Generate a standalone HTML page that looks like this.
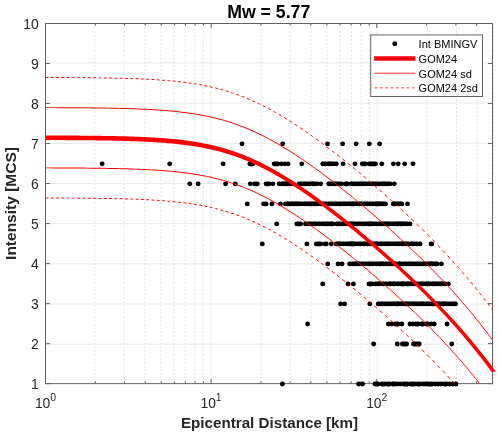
<!DOCTYPE html><html><head><meta charset="utf-8"><style>html,body{margin:0;padding:0;background:#fff}svg{display:block;will-change:transform}</style></head><body><svg width="500" height="437" viewBox="0 0 500 437" font-family="'Liberation Sans', sans-serif">
<rect width="500" height="437" fill="#fff"/>
<line x1="94.70" x2="94.70" y1="23.5" y2="383.65" stroke="#dadada" stroke-width="0.8" stroke-dasharray="2 1.8"/>
<line x1="123.97" x2="123.97" y1="23.5" y2="383.65" stroke="#dadada" stroke-width="0.8" stroke-dasharray="2 1.8"/>
<line x1="144.74" x2="144.74" y1="23.5" y2="383.65" stroke="#dadada" stroke-width="0.8" stroke-dasharray="2 1.8"/>
<line x1="160.85" x2="160.85" y1="23.5" y2="383.65" stroke="#dadada" stroke-width="0.8" stroke-dasharray="2 1.8"/>
<line x1="174.02" x2="174.02" y1="23.5" y2="383.65" stroke="#dadada" stroke-width="0.8" stroke-dasharray="2 1.8"/>
<line x1="185.15" x2="185.15" y1="23.5" y2="383.65" stroke="#dadada" stroke-width="0.8" stroke-dasharray="2 1.8"/>
<line x1="194.79" x2="194.79" y1="23.5" y2="383.65" stroke="#dadada" stroke-width="0.8" stroke-dasharray="2 1.8"/>
<line x1="203.29" x2="203.29" y1="23.5" y2="383.65" stroke="#dadada" stroke-width="0.8" stroke-dasharray="2 1.8"/>
<line x1="260.94" x2="260.94" y1="23.5" y2="383.65" stroke="#dadada" stroke-width="0.8" stroke-dasharray="2 1.8"/>
<line x1="290.22" x2="290.22" y1="23.5" y2="383.65" stroke="#dadada" stroke-width="0.8" stroke-dasharray="2 1.8"/>
<line x1="310.99" x2="310.99" y1="23.5" y2="383.65" stroke="#dadada" stroke-width="0.8" stroke-dasharray="2 1.8"/>
<line x1="327.10" x2="327.10" y1="23.5" y2="383.65" stroke="#dadada" stroke-width="0.8" stroke-dasharray="2 1.8"/>
<line x1="340.26" x2="340.26" y1="23.5" y2="383.65" stroke="#dadada" stroke-width="0.8" stroke-dasharray="2 1.8"/>
<line x1="351.39" x2="351.39" y1="23.5" y2="383.65" stroke="#dadada" stroke-width="0.8" stroke-dasharray="2 1.8"/>
<line x1="361.04" x2="361.04" y1="23.5" y2="383.65" stroke="#dadada" stroke-width="0.8" stroke-dasharray="2 1.8"/>
<line x1="369.54" x2="369.54" y1="23.5" y2="383.65" stroke="#dadada" stroke-width="0.8" stroke-dasharray="2 1.8"/>
<line x1="427.19" x2="427.19" y1="23.5" y2="383.65" stroke="#dadada" stroke-width="0.8" stroke-dasharray="2 1.8"/>
<line x1="456.47" x2="456.47" y1="23.5" y2="383.65" stroke="#dadada" stroke-width="0.8" stroke-dasharray="2 1.8"/>
<line x1="477.24" x2="477.24" y1="23.5" y2="383.65" stroke="#dadada" stroke-width="0.8" stroke-dasharray="2 1.8"/>
<line x1="493.35" x2="493.35" y1="23.5" y2="383.65" stroke="#dadada" stroke-width="0.8" stroke-dasharray="2 1.8"/>
<line x1="210.90" x2="210.90" y1="23.5" y2="383.65" stroke="#e8e8e8" stroke-width="1"/>
<line x1="377.15" x2="377.15" y1="23.5" y2="383.65" stroke="#e8e8e8" stroke-width="1"/>
<line x1="45.5" x2="492.5" y1="344.22" y2="344.22" stroke="#e8e8e8" stroke-width="1"/>
<line x1="45.5" x2="492.5" y1="304.04" y2="304.04" stroke="#e8e8e8" stroke-width="1"/>
<line x1="45.5" x2="492.5" y1="263.85" y2="263.85" stroke="#e8e8e8" stroke-width="1"/>
<line x1="45.5" x2="492.5" y1="223.67" y2="223.67" stroke="#e8e8e8" stroke-width="1"/>
<line x1="45.5" x2="492.5" y1="183.48" y2="183.48" stroke="#e8e8e8" stroke-width="1"/>
<line x1="45.5" x2="492.5" y1="143.30" y2="143.30" stroke="#e8e8e8" stroke-width="1"/>
<line x1="45.5" x2="492.5" y1="103.11" y2="103.11" stroke="#e8e8e8" stroke-width="1"/>
<line x1="45.5" x2="492.5" y1="62.93" y2="62.93" stroke="#e8e8e8" stroke-width="1"/>
<clipPath id="c"><rect x="45.5" y="23.5" width="447.0" height="360.15"/></clipPath>
<rect x="45.5" y="23.5" width="447.0" height="360.15" fill="none" stroke="#636363" stroke-width="1"/>
<path d="M45.5 383.65h4.5M492.5 383.65h-4.5M45.5 343.63h4.5M492.5 343.63h-4.5M45.5 303.62h4.5M492.5 303.62h-4.5M45.5 263.60h4.5M492.5 263.60h-4.5M45.5 223.58h4.5M492.5 223.58h-4.5M45.5 183.57h4.5M492.5 183.57h-4.5M45.5 143.55h4.5M492.5 143.55h-4.5M45.5 103.53h4.5M492.5 103.53h-4.5M45.5 63.52h4.5M492.5 63.52h-4.5M45.5 23.50h4.5M492.5 23.50h-4.5M45.50 383.65v-4.5M45.50 23.5v4.5M211.12 383.65v-4.5M211.12 23.5v4.5M376.74 383.65v-4.5M376.74 23.5v4.5M95.36 383.65v-2.2M95.36 23.5v2.2M124.52 383.65v-2.2M124.52 23.5v2.2M145.21 383.65v-2.2M145.21 23.5v2.2M161.26 383.65v-2.2M161.26 23.5v2.2M174.38 383.65v-2.2M174.38 23.5v2.2M185.46 383.65v-2.2M185.46 23.5v2.2M195.07 383.65v-2.2M195.07 23.5v2.2M203.54 383.65v-2.2M203.54 23.5v2.2M260.97 383.65v-2.2M260.97 23.5v2.2M290.14 383.65v-2.2M290.14 23.5v2.2M310.83 383.65v-2.2M310.83 23.5v2.2M326.88 383.65v-2.2M326.88 23.5v2.2M340.00 383.65v-2.2M340.00 23.5v2.2M351.08 383.65v-2.2M351.08 23.5v2.2M360.69 383.65v-2.2M360.69 23.5v2.2M369.16 383.65v-2.2M369.16 23.5v2.2M426.59 383.65v-2.2M426.59 23.5v2.2M455.76 383.65v-2.2M455.76 23.5v2.2M476.45 383.65v-2.2M476.45 23.5v2.2M492.50 383.65v-2.2M492.50 23.5v2.2" stroke="#636363" stroke-width="1" fill="none"/>
<g stroke="#000" stroke-width="4.9" stroke-linecap="round" fill="none">
<path d="M242.00 143.85h0.01"/>
<path d="M282.70 143.85h0.01"/>
<path d="M327.50 143.85h0.01"/>
<path d="M342.60 143.85h0.01"/>
<path d="M356.20 143.85h0.01"/>
<path d="M369.30 143.85h0.01"/>
<path d="M379.60 143.85h0.01"/>
<path d="M102.15 163.86h0.01"/>
<path d="M169.70 163.86h0.01"/>
<path d="M223.10 163.86h0.01"/>
<path d="M249.80 163.86H252.80"/>
<path d="M274.20 163.86H278.00"/>
<path d="M281.20 163.86h0.01"/>
<path d="M284.70 163.86h0.01"/>
<path d="M288.00 163.86h0.01"/>
<path d="M301.80 163.86h0.01"/>
<path d="M322.80 163.86H336.30" stroke-width="4.1"/>
<path d="M322.80 163.86h0.01M325.39 163.86h0.01M328.27 163.86h0.01M330.39 163.86h0.01M332.91 163.86h0.01M336.30 163.86h0.01"/>
<path d="M343.00 163.86h0.01"/>
<path d="M355.00 163.86h0.01"/>
<path d="M362.30 163.86H365.50"/>
<path d="M369.00 163.86H375.50"/>
<path d="M381.80 163.86h0.01"/>
<path d="M393.40 163.86h0.01"/>
<path d="M398.20 163.86h0.01"/>
<path d="M404.70 163.86h0.01"/>
<path d="M413.00 163.86h0.01"/>
<path d="M189.80 183.87h0.01"/>
<path d="M198.10 183.87h0.01"/>
<path d="M225.60 183.87h0.01"/>
<path d="M235.20 183.87h0.01"/>
<path d="M250.30 183.87h0.01"/>
<path d="M254.50 183.87H257.30"/>
<path d="M266.10 183.87H269.10"/>
<path d="M272.90 183.87h0.01"/>
<path d="M279.20 183.87H291.80" stroke-width="4.1"/>
<path d="M279.20 183.87h0.01M282.41 183.87h0.01M284.24 183.87h0.01M286.21 183.87h0.01M287.91 183.87h0.01M290.30 183.87h0.01M291.80 183.87h0.01"/>
<path d="M299.30 183.87H316.90" stroke-width="4.1"/>
<path d="M299.30 183.87h0.01M301.72 183.87h0.01M304.49 183.87h0.01M306.59 183.87h0.01M309.41 183.87h0.01M312.07 183.87h0.01M313.72 183.87h0.01M316.90 183.87h0.01"/>
<path d="M320.70 183.87h0.01"/>
<path d="M328.80 183.87H341.00" stroke-width="4.1"/>
<path d="M328.80 183.87h0.01M330.87 183.87h0.01M333.21 183.87h0.01M335.32 183.87h0.01M338.17 183.87h0.01M341.00 183.87h0.01"/>
<path d="M345.00 183.87H347.50"/>
<path d="M351.00 183.87H390.00" stroke-width="4.1"/>
<path d="M351.00 183.87h0.01M352.88 183.87h0.01M355.46 183.87h0.01M358.47 183.87h0.01M360.62 183.87h0.01M362.62 183.87h0.01M364.92 183.87h0.01M368.20 183.87h0.01M371.56 183.87h0.01M374.37 183.87h0.01M377.59 183.87h0.01M380.72 183.87h0.01M383.00 183.87h0.01M384.76 183.87h0.01M387.54 183.87h0.01M390.00 183.87h0.01"/>
<path d="M394.20 183.87h0.01"/>
<path d="M247.30 203.88h0.01"/>
<path d="M263.60 203.88H266.10"/>
<path d="M271.90 203.88h0.01"/>
<path d="M280.50 203.88h0.01"/>
<path d="M285.50 203.88H385.40" stroke-width="4.1"/>
<path d="M285.50 203.88h0.01M287.75 203.88h0.01M289.76 203.88h0.01M292.09 203.88h0.01M294.53 203.88h0.01M296.62 203.88h0.01M298.74 203.88h0.01M301.17 203.88h0.01M304.31 203.88h0.01M306.97 203.88h0.01M309.08 203.88h0.01M311.18 203.88h0.01M313.60 203.88h0.01M315.57 203.88h0.01M317.53 203.88h0.01M320.06 203.88h0.01M321.81 203.88h0.01M324.28 203.88h0.01M326.54 203.88h0.01M329.41 203.88h0.01M332.35 203.88h0.01M335.20 203.88h0.01M338.04 203.88h0.01M340.31 203.88h0.01M343.11 203.88h0.01M345.32 203.88h0.01M347.96 203.88h0.01M350.14 203.88h0.01M352.54 203.88h0.01M354.25 203.88h0.01M356.29 203.88h0.01M359.64 203.88h0.01M361.66 203.88h0.01M364.50 203.88h0.01M367.27 203.88h0.01M370.17 203.88h0.01M372.63 203.88h0.01M375.30 203.88h0.01M377.02 203.88h0.01M378.75 203.88h0.01M380.71 203.88h0.01M382.59 203.88h0.01M385.40 203.88h0.01"/>
<path d="M393.40 203.88H401.70" stroke-width="4.1"/>
<path d="M393.40 203.88h0.01M395.23 203.88h0.01M397.83 203.88h0.01M399.77 203.88h0.01M401.70 203.88h0.01"/>
<path d="M407.50 203.88h0.01"/>
<path d="M276.70 223.88h0.01"/>
<path d="M296.80 223.88H300.60"/>
<path d="M305.60 223.88H332.50" stroke-width="4.1"/>
<path d="M305.60 223.88h0.01M308.43 223.88h0.01M311.00 223.88h0.01M313.87 223.88h0.01M315.95 223.88h0.01M319.22 223.88h0.01M322.33 223.88h0.01M325.23 223.88h0.01M327.70 223.88h0.01M330.81 223.88h0.01M332.50 223.88h0.01"/>
<path d="M336.50 223.88H410.00" stroke-width="4.1"/>
<path d="M336.50 223.88h0.01M339.29 223.88h0.01M342.53 223.88h0.01M345.27 223.88h0.01M347.53 223.88h0.01M350.13 223.88h0.01M352.08 223.88h0.01M354.03 223.88h0.01M356.93 223.88h0.01M359.95 223.88h0.01M363.30 223.88h0.01M366.43 223.88h0.01M369.01 223.88h0.01M370.77 223.88h0.01M373.25 223.88h0.01M376.52 223.88h0.01M379.54 223.88h0.01M382.01 223.88h0.01M384.43 223.88h0.01M386.42 223.88h0.01M388.34 223.88h0.01M390.07 223.88h0.01M393.28 223.88h0.01M396.03 223.88h0.01M397.89 223.88h0.01M400.23 223.88h0.01M401.92 223.88h0.01M403.90 223.88h0.01M406.82 223.88h0.01M410.00 223.88h0.01"/>
<path d="M262.30 243.89h0.01"/>
<path d="M306.90 243.89h0.01"/>
<path d="M316.40 243.89H320.70"/>
<path d="M325.00 243.89H326.30"/>
<path d="M331.30 243.89h0.01"/>
<path d="M336.30 243.89H420.10" stroke-width="4.1"/>
<path d="M336.30 243.89h0.01M338.76 243.89h0.01M340.86 243.89h0.01M343.63 243.89h0.01M346.95 243.89h0.01M349.34 243.89h0.01M351.06 243.89h0.01M352.77 243.89h0.01M354.52 243.89h0.01M357.84 243.89h0.01M360.42 243.89h0.01M363.52 243.89h0.01M365.43 243.89h0.01M367.50 243.89h0.01M370.34 243.89h0.01M373.56 243.89h0.01M375.77 243.89h0.01M377.49 243.89h0.01M380.64 243.89h0.01M382.76 243.89h0.01M385.70 243.89h0.01M387.58 243.89h0.01M390.43 243.89h0.01M393.55 243.89h0.01M396.46 243.89h0.01M398.70 243.89h0.01M401.61 243.89h0.01M403.46 243.89h0.01M405.63 243.89h0.01M407.98 243.89h0.01M411.16 243.89h0.01M413.04 243.89h0.01M416.22 243.89h0.01M420.10 243.89h0.01"/>
<path d="M431.00 243.89H431.80"/>
<path d="M327.70 263.90h0.01"/>
<path d="M338.10 263.90h0.01"/>
<path d="M342.10 263.90h0.01"/>
<path d="M349.60 263.90H436.90" stroke-width="4.1"/>
<path d="M349.60 263.90h0.01M352.95 263.90h0.01M355.21 263.90h0.01M357.18 263.90h0.01M359.21 263.90h0.01M362.30 263.90h0.01M365.64 263.90h0.01M368.50 263.90h0.01M370.97 263.90h0.01M373.08 263.90h0.01M376.18 263.90h0.01M379.35 263.90h0.01M381.12 263.90h0.01M383.11 263.90h0.01M386.21 263.90h0.01M389.33 263.90h0.01M391.50 263.90h0.01M393.60 263.90h0.01M395.98 263.90h0.01M398.55 263.90h0.01M400.32 263.90h0.01M403.43 263.90h0.01M405.99 263.90h0.01M408.98 263.90h0.01M411.00 263.90h0.01M414.34 263.90h0.01M417.29 263.90h0.01M419.51 263.90h0.01M422.81 263.90h0.01M425.67 263.90h0.01M428.79 263.90h0.01M430.47 263.90h0.01M432.17 263.90h0.01M435.11 263.90h0.01M436.90 263.90h0.01"/>
<path d="M441.40 263.90h0.01"/>
<path d="M322.70 283.91h0.01"/>
<path d="M348.10 283.91h0.01"/>
<path d="M353.40 283.91h0.01"/>
<path d="M369.00 283.91H372.30"/>
<path d="M375.80 283.91H444.80" stroke-width="4.1"/>
<path d="M375.80 283.91h0.01M378.33 283.91h0.01M380.21 283.91h0.01M383.57 283.91h0.01M386.08 283.91h0.01M389.17 283.91h0.01M390.90 283.91h0.01M393.36 283.91h0.01M395.08 283.91h0.01M398.27 283.91h0.01M400.67 283.91h0.01M402.39 283.91h0.01M404.13 283.91h0.01M406.70 283.91h0.01M408.44 283.91h0.01M410.37 283.91h0.01M412.75 283.91h0.01M415.25 283.91h0.01M417.90 283.91h0.01M420.62 283.91h0.01M422.89 283.91h0.01M425.60 283.91h0.01M427.48 283.91h0.01M429.58 283.91h0.01M432.62 283.91h0.01M434.49 283.91h0.01M436.50 283.91h0.01M438.53 283.91h0.01M441.00 283.91h0.01M442.60 283.91h0.01M444.80 283.91h0.01"/>
<path d="M448.40 283.91h0.01"/>
<path d="M340.60 303.92h0.01"/>
<path d="M344.60 303.92h0.01"/>
<path d="M369.80 303.92h0.01"/>
<path d="M378.30 303.92H455.40" stroke-width="4.1"/>
<path d="M378.30 303.92h0.01M380.73 303.92h0.01M382.62 303.92h0.01M385.45 303.92h0.01M388.48 303.92h0.01M391.12 303.92h0.01M393.97 303.92h0.01M396.27 303.92h0.01M397.96 303.92h0.01M400.35 303.92h0.01M402.62 303.92h0.01M405.29 303.92h0.01M407.13 303.92h0.01M409.14 303.92h0.01M412.21 303.92h0.01M414.29 303.92h0.01M416.62 303.92h0.01M419.91 303.92h0.01M422.00 303.92h0.01M423.87 303.92h0.01M426.73 303.92h0.01M429.35 303.92h0.01M432.05 303.92h0.01M433.73 303.92h0.01M436.08 303.92h0.01M437.69 303.92h0.01M439.73 303.92h0.01M442.60 303.92h0.01M444.31 303.92h0.01M446.44 303.92h0.01M449.82 303.92h0.01M453.17 303.92h0.01M455.40 303.92h0.01"/>
<path d="M307.60 323.93h0.01"/>
<path d="M388.40 323.93h0.01"/>
<path d="M391.70 323.93h0.01"/>
<path d="M395.50 323.93H398.00"/>
<path d="M401.80 323.93h0.01"/>
<path d="M410.00 323.93H434.20" stroke-width="4.1"/>
<path d="M410.00 323.93h0.01M412.92 323.93h0.01M415.66 323.93h0.01M418.10 323.93h0.01M421.24 323.93h0.01M423.15 323.93h0.01M426.25 323.93h0.01M427.92 323.93h0.01M431.08 323.93h0.01M434.20 323.93h0.01"/>
<path d="M447.00 323.93h0.01"/>
<path d="M373.60 343.93h0.01"/>
<path d="M397.30 343.93h0.01"/>
<path d="M402.40 343.93H406.60"/>
<path d="M413.50 343.93H419.20"/>
<path d="M451.70 343.93h0.01"/>
<path d="M282.40 383.95h0.01"/>
<path d="M358.60 383.95h0.01"/>
<path d="M362.60 383.95h0.01"/>
<path d="M375.00 383.95H378.00"/>
<path d="M382.00 383.95H455.90" stroke-width="4.1"/>
<path d="M382.00 383.95h0.01M384.40 383.95h0.01M387.21 383.95h0.01M389.64 383.95h0.01M392.64 383.95h0.01M394.45 383.95h0.01M396.96 383.95h0.01M400.13 383.95h0.01M403.40 383.95h0.01M405.40 383.95h0.01M407.45 383.95h0.01M410.68 383.95h0.01M412.90 383.95h0.01M414.60 383.95h0.01M417.49 383.95h0.01M419.84 383.95h0.01M422.76 383.95h0.01M425.22 383.95h0.01M427.72 383.95h0.01M430.07 383.95h0.01M432.19 383.95h0.01M435.41 383.95h0.01M438.22 383.95h0.01M441.24 383.95h0.01M444.45 383.95h0.01M446.50 383.95h0.01M449.76 383.95h0.01M452.91 383.95h0.01M455.90 383.95h0.01"/>
</g>
<g fill="#ff0000" stroke="none"><g clip-path="url(#c)">
<path d="M45.50 107.13L47.53 107.14L49.56 107.15L51.59 107.15L53.62 107.16L55.65 107.17L57.68 107.18L59.71 107.19L61.74 107.20L63.77 107.21L65.80 107.22L67.94 107.23L69.97 107.24L72.00 107.26L74.03 107.27L76.06 107.29L78.09 107.30L80.12 107.32L82.15 107.33L84.18 107.35L86.21 107.37L88.36 107.39L90.39 107.41L92.42 107.44L94.45 107.46L96.48 107.49L98.51 107.51L100.54 107.54L102.57 107.57L104.60 107.60L106.63 107.64L108.66 107.67L110.80 107.71L112.83 107.75L114.86 107.79L116.89 107.84L118.92 107.88L120.95 107.93L122.98 107.99L125.01 108.04L127.04 108.10L129.07 108.16L131.21 108.23L133.24 108.30L135.27 108.37L137.30 108.45L139.33 108.53L141.36 108.61L143.39 108.70L145.42 108.80L147.45 108.90L149.48 109.00L151.51 109.11L153.65 109.24L155.68 109.36L157.71 109.49L159.74 109.63L161.77 109.77L163.80 109.92L165.83 110.08L167.86 110.25L169.89 110.43L171.92 110.61L174.07 110.82L176.10 111.03L178.13 111.24L180.16 111.47L182.19 111.71L184.22 111.96L186.25 112.22L188.28 112.50L190.31 112.78L192.34 113.09L194.48 113.42L196.51 113.75L198.54 114.10L200.57 114.46L202.60 114.84L204.63 115.23L206.66 115.64L208.69 116.07L210.72 116.52L212.75 116.99L214.78 117.47L216.92 118.01L218.95 118.53L220.98 119.08L223.01 119.64L225.04 120.23L227.07 120.84L229.10 121.47L231.13 122.12L233.16 122.80L235.19 123.50L237.34 124.26L239.37 125.00L241.40 125.77L243.43 126.56L245.46 127.37L247.49 128.21L249.52 129.07L251.55 129.95L253.58 130.86L255.61 131.79L257.64 132.74L259.78 133.77L261.81 134.77L263.84 135.79L265.87 136.83L267.90 137.89L269.93 138.98L271.96 140.08L273.99 141.21L276.02 142.36L278.05 143.53L280.19 144.78L282.22 145.99L284.25 147.21L286.28 148.46L288.31 149.72L290.34 151.00L292.37 152.30L294.40 153.61L296.43 154.94L298.46 156.28L300.49 157.65L302.63 159.10L304.66 160.49L306.69 161.90L308.72 163.31L310.75 164.75L312.78 166.19L314.81 167.65L316.84 169.12L318.87 170.61L320.90 172.10L323.05 173.69L325.08 175.21L327.11 176.74L329.14 178.28L331.17 179.84L333.20 181.40L335.23 182.97L337.26 184.55L339.29 186.14L341.32 187.74L343.46 189.44L345.49 191.06L347.52 192.69L349.55 194.33L351.58 195.98L353.61 197.63L355.64 199.30L357.67 200.97L359.70 202.66L361.73 204.35L363.76 206.05L365.90 207.85L367.93 209.57L369.96 211.30L371.99 213.03L374.02 214.77L376.05 216.53L378.08 218.29L380.11 220.06L382.14 221.84L384.17 223.63L386.32 225.53L388.35 227.34L390.38 229.16L392.41 230.98L394.44 232.82L396.47 234.67L398.50 236.53L400.53 238.40L402.56 240.27L404.59 242.16L406.62 244.07L408.76 246.08L410.79 248.01L412.82 249.95L414.85 251.89L416.88 253.85L418.91 255.83L420.94 257.81L422.97 259.81L425.00 261.83L427.50 264.33L429.65 266.48L431.68 268.54L433.71 270.61L435.74 272.70L437.77 274.80L439.80 276.92L441.83 279.06L443.86 281.21L445.89 283.38L447.92 285.57L449.95 287.77L452.09 290.12L454.12 292.37L456.15 294.64L458.18 296.92L460.21 299.23L462.24 301.56L464.27 303.91L466.30 306.29L468.33 308.69L470.36 311.11L472.50 313.70L474.53 316.17L476.56 318.67L478.59 321.20L480.62 323.76L482.65 326.35L484.68 328.96L486.71 331.61L488.74 334.28L490.77 336.99L492.91 339.89L491.96 339.89L489.82 336.99L487.79 334.28L485.76 331.61L483.73 328.96L481.70 326.35L479.67 323.76L477.64 321.20L475.61 318.67L473.58 316.17L471.55 313.70L469.41 311.11L467.38 308.69L465.35 306.29L463.32 303.91L461.29 301.56L459.26 299.23L457.23 296.92L455.20 294.64L453.17 292.37L451.14 290.12L449.00 287.77L446.97 285.57L444.94 283.38L442.91 281.21L440.88 279.06L438.85 276.92L436.82 274.80L434.79 272.70L432.76 270.61L430.73 268.54L428.70 266.48L426.55 264.33L425.00 262.78L422.97 260.76L420.94 258.76L418.91 256.78L416.88 254.80L414.85 252.84L412.82 250.90L410.79 248.96L408.76 247.03L406.62 245.02L404.59 243.11L402.56 241.22L400.53 239.35L398.50 237.48L396.47 235.62L394.44 233.77L392.41 231.93L390.38 230.11L388.35 228.29L386.32 226.48L384.17 224.58L382.14 222.79L380.11 221.01L378.08 219.24L376.05 217.48L374.02 215.72L371.99 213.98L369.96 212.25L367.93 210.52L365.90 208.80L363.76 207.00L361.73 205.30L359.70 203.61L357.67 201.92L355.64 200.25L353.61 198.58L351.58 196.93L349.55 195.28L347.52 193.64L345.49 192.01L343.46 190.39L341.32 188.69L339.29 187.09L337.26 185.50L335.23 183.92L333.20 182.35L331.17 180.79L329.14 179.23L327.11 177.69L325.08 176.16L323.05 174.64L320.90 173.05L318.87 171.56L316.84 170.07L314.81 168.60L312.78 167.14L310.75 165.70L308.72 164.26L306.69 162.85L304.66 161.44L302.63 160.05L300.49 158.60L298.46 157.23L296.43 155.89L294.40 154.56L292.37 153.25L290.34 151.95L288.31 150.67L286.28 149.41L284.25 148.16L282.22 146.94L280.19 145.73L278.05 144.48L276.02 143.31L273.99 142.16L271.96 141.03L269.93 139.93L267.90 138.84L265.87 137.78L263.84 136.74L261.81 135.72L259.78 134.72L257.64 133.69L255.61 132.74L253.58 131.81L251.55 130.90L249.52 130.02L247.49 129.16L245.46 128.32L243.43 127.51L241.40 126.72L239.37 125.95L237.34 125.21L235.19 124.45L233.16 123.75L231.13 123.07L229.10 122.42L227.07 121.79L225.04 121.18L223.01 120.59L220.98 120.03L218.95 119.48L216.92 118.96L214.78 118.42L212.75 117.94L210.72 117.47L208.69 117.02L206.66 116.59L204.63 116.18L202.60 115.79L200.57 115.41L198.54 115.05L196.51 114.70L194.48 114.37L192.34 114.04L190.31 113.73L188.28 113.45L186.25 113.17L184.22 112.91L182.19 112.66L180.16 112.42L178.13 112.19L176.10 111.98L174.07 111.77L171.92 111.56L169.89 111.38L167.86 111.20L165.83 111.03L163.80 110.87L161.77 110.72L159.74 110.58L157.71 110.44L155.68 110.31L153.65 110.19L151.51 110.06L149.48 109.95L147.45 109.85L145.42 109.75L143.39 109.65L141.36 109.56L139.33 109.48L137.30 109.40L135.27 109.32L133.24 109.25L131.21 109.18L129.07 109.11L127.04 109.05L125.01 108.99L122.98 108.94L120.95 108.88L118.92 108.83L116.89 108.79L114.86 108.74L112.83 108.70L110.80 108.66L108.66 108.62L106.63 108.59L104.60 108.55L102.57 108.52L100.54 108.49L98.51 108.46L96.48 108.44L94.45 108.41L92.42 108.39L90.39 108.36L88.36 108.34L86.21 108.32L84.18 108.30L82.15 108.28L80.12 108.27L78.09 108.25L76.06 108.24L74.03 108.22L72.00 108.21L69.97 108.19L67.94 108.18L65.80 108.17L63.77 108.16L61.74 108.15L59.71 108.14L57.68 108.13L55.65 108.12L53.62 108.11L51.59 108.10L49.56 108.10L47.53 108.09L45.50 108.08Z"/>
<path d="M45.50 167.40L47.53 167.41L49.56 167.41L51.59 167.42L53.62 167.43L55.65 167.44L57.68 167.44L59.71 167.45L61.74 167.46L63.77 167.47L65.80 167.48L67.94 167.50L69.97 167.51L72.00 167.52L74.03 167.54L76.06 167.55L78.09 167.57L80.12 167.58L82.15 167.60L84.18 167.62L86.21 167.64L88.36 167.66L90.39 167.68L92.42 167.70L94.45 167.73L96.48 167.75L98.51 167.78L100.54 167.81L102.57 167.84L104.60 167.87L106.63 167.90L108.66 167.94L110.80 167.98L112.83 168.02L114.86 168.06L116.89 168.10L118.92 168.15L120.95 168.20L122.98 168.25L125.01 168.31L127.04 168.36L129.07 168.43L131.21 168.49L133.24 168.56L135.27 168.63L137.30 168.71L139.33 168.79L141.36 168.88L143.39 168.97L145.42 169.06L147.45 169.16L149.48 169.27L151.51 169.38L153.65 169.50L155.68 169.62L157.71 169.75L159.74 169.89L161.77 170.04L163.80 170.19L165.83 170.35L167.86 170.52L169.89 170.69L171.92 170.88L174.07 171.09L176.10 171.29L178.13 171.51L180.16 171.74L182.19 171.97L184.22 172.22L186.25 172.49L188.28 172.76L190.31 173.05L192.34 173.35L194.48 173.68L196.51 174.02L198.54 174.36L200.57 174.72L202.60 175.10L204.63 175.50L206.66 175.91L208.69 176.34L210.72 176.79L212.75 177.25L214.78 177.74L216.92 178.27L218.95 178.80L220.98 179.34L223.01 179.91L225.04 180.50L227.07 181.11L229.10 181.74L231.13 182.39L233.16 183.06L235.19 183.76L237.34 184.52L239.37 185.27L241.40 186.03L243.43 186.82L245.46 187.64L247.49 188.47L249.52 189.33L251.55 190.22L253.58 191.12L255.61 192.05L257.64 193.00L259.78 194.03L261.81 195.03L263.84 196.05L265.87 197.09L267.90 198.16L269.93 199.24L271.96 200.35L273.99 201.48L276.02 202.62L278.05 203.79L280.19 205.04L282.22 206.25L284.25 207.48L286.28 208.72L288.31 209.98L290.34 211.26L292.37 212.56L294.40 213.87L296.43 215.20L298.46 216.55L300.49 217.91L302.63 219.36L304.66 220.75L306.69 222.16L308.72 223.58L310.75 225.01L312.78 226.46L314.81 227.92L316.84 229.39L318.87 230.87L320.90 232.37L323.05 233.96L325.08 235.48L327.11 237.01L329.14 238.55L331.17 240.10L333.20 241.66L335.23 243.23L337.26 244.82L339.29 246.41L341.32 248.01L343.46 249.71L345.49 251.33L347.52 252.96L349.55 254.60L351.58 256.24L353.61 257.90L355.64 259.56L357.67 261.24L359.70 262.92L361.73 264.61L363.76 266.31L365.90 268.12L367.93 269.83L369.96 271.56L371.99 273.30L374.02 275.04L376.05 276.79L378.08 278.55L380.11 280.33L382.14 282.11L384.17 283.89L386.32 285.79L388.35 287.60L390.38 289.42L392.41 291.25L394.44 293.09L396.47 294.93L398.50 296.79L400.53 298.66L402.56 300.54L404.59 302.43L406.62 304.33L408.76 306.35L410.79 308.27L412.82 310.21L414.85 312.16L416.88 314.12L418.91 316.09L420.94 318.08L422.97 320.08L425.00 322.09L427.50 324.59L429.65 326.75L431.68 328.80L433.71 330.88L435.74 332.96L437.77 335.07L439.80 337.18L441.83 339.32L443.86 341.47L445.89 343.64L447.92 345.83L449.95 348.04L452.09 350.39L454.12 352.63L456.15 354.90L458.18 357.19L460.21 359.50L462.24 361.83L464.27 364.18L466.30 366.55L468.33 368.95L470.36 371.38L472.50 373.96L474.53 376.44L476.56 378.94L478.59 381.47L480.62 384.02L482.65 386.61L484.68 389.23L486.71 391.87L488.74 394.55L490.77 397.26L492.91 400.15L491.96 400.15L489.82 397.26L487.79 394.55L485.76 391.87L483.73 389.23L481.70 386.61L479.67 384.02L477.64 381.47L475.61 378.94L473.58 376.44L471.55 373.96L469.41 371.38L467.38 368.95L465.35 366.55L463.32 364.18L461.29 361.83L459.26 359.50L457.23 357.19L455.20 354.90L453.17 352.63L451.14 350.39L449.00 348.04L446.97 345.83L444.94 343.64L442.91 341.47L440.88 339.32L438.85 337.18L436.82 335.07L434.79 332.96L432.76 330.88L430.73 328.80L428.70 326.75L426.55 324.59L425.00 323.04L422.97 321.03L420.94 319.03L418.91 317.04L416.88 315.07L414.85 313.11L412.82 311.16L410.79 309.22L408.76 307.30L406.62 305.28L404.59 303.38L402.56 301.49L400.53 299.61L398.50 297.74L396.47 295.88L394.44 294.04L392.41 292.20L390.38 290.37L388.35 288.55L386.32 286.74L384.17 284.84L382.14 283.06L380.11 281.28L378.08 279.50L376.05 277.74L374.02 275.99L371.99 274.25L369.96 272.51L367.93 270.78L365.90 269.07L363.76 267.26L361.73 265.56L359.70 263.87L357.67 262.19L355.64 260.51L353.61 258.85L351.58 257.19L349.55 255.55L347.52 253.91L345.49 252.28L343.46 250.66L341.32 248.96L339.29 247.36L337.26 245.77L335.23 244.18L333.20 242.61L331.17 241.05L329.14 239.50L327.11 237.96L325.08 236.43L323.05 234.91L320.90 233.32L318.87 231.82L316.84 230.34L314.81 228.87L312.78 227.41L310.75 225.96L308.72 224.53L306.69 223.11L304.66 221.70L302.63 220.31L300.49 218.86L298.46 217.50L296.43 216.15L294.40 214.82L292.37 213.51L290.34 212.21L288.31 210.93L286.28 209.67L284.25 208.43L282.22 207.20L280.19 205.99L278.05 204.74L276.02 203.57L273.99 202.43L271.96 201.30L269.93 200.19L267.90 199.11L265.87 198.04L263.84 197.00L261.81 195.98L259.78 194.98L257.64 193.95L255.61 193.00L253.58 192.07L251.55 191.17L249.52 190.28L247.49 189.42L245.46 188.59L243.43 187.77L241.40 186.98L239.37 186.22L237.34 185.47L235.19 184.71L233.16 184.01L231.13 183.34L229.10 182.69L227.07 182.06L225.04 181.45L223.01 180.86L220.98 180.29L218.95 179.75L216.92 179.22L214.78 178.69L212.75 178.20L210.72 177.74L208.69 177.29L206.66 176.86L204.63 176.45L202.60 176.05L200.57 175.67L198.54 175.31L196.51 174.97L194.48 174.63L192.34 174.30L190.31 174.00L188.28 173.71L186.25 173.44L184.22 173.17L182.19 172.92L180.16 172.69L178.13 172.46L176.10 172.24L174.07 172.04L171.92 171.83L169.89 171.64L167.86 171.47L165.83 171.30L163.80 171.14L161.77 170.99L159.74 170.84L157.71 170.70L155.68 170.57L153.65 170.45L151.51 170.33L149.48 170.22L147.45 170.11L145.42 170.01L143.39 169.92L141.36 169.83L139.33 169.74L137.30 169.66L135.27 169.58L133.24 169.51L131.21 169.44L129.07 169.38L127.04 169.31L125.01 169.26L122.98 169.20L120.95 169.15L118.92 169.10L116.89 169.05L114.86 169.01L112.83 168.97L110.80 168.93L108.66 168.89L106.63 168.85L104.60 168.82L102.57 168.79L100.54 168.76L98.51 168.73L96.48 168.70L94.45 168.68L92.42 168.65L90.39 168.63L88.36 168.61L86.21 168.59L84.18 168.57L82.15 168.55L80.12 168.53L78.09 168.52L76.06 168.50L74.03 168.49L72.00 168.47L69.97 168.46L67.94 168.45L65.80 168.43L63.77 168.42L61.74 168.41L59.71 168.40L57.68 168.39L55.65 168.39L53.62 168.38L51.59 168.37L49.56 168.36L47.53 168.36L45.50 168.35Z"/>
<path d="M45.50 77.00L46.17 77.00L46.84 77.01L47.51 77.01L48.29 77.01L48.29 77.96L47.51 77.96L46.84 77.96L46.17 77.95L45.50 77.95ZM50.87 77.02L51.54 77.02L52.21 77.02L52.88 77.03L53.66 77.03L53.66 77.98L52.88 77.98L52.21 77.97L51.54 77.97L50.87 77.97ZM56.12 77.04L56.79 77.04L57.46 77.05L58.13 77.05L58.91 77.05L58.91 78.00L58.13 78.00L57.46 78.00L56.79 77.99L56.12 77.99ZM61.48 77.06L62.15 77.07L62.83 77.07L63.50 77.07L64.28 77.08L64.28 78.03L63.50 78.02L62.83 78.02L62.15 78.02L61.48 78.01ZM66.74 77.09L67.41 77.10L68.08 77.10L68.75 77.10L69.53 77.11L69.53 78.06L68.75 78.05L68.08 78.05L67.41 78.05L66.74 78.04ZM72.10 77.13L72.77 77.13L73.44 77.13L74.12 77.14L74.90 77.14L74.90 78.09L74.12 78.09L73.44 78.08L72.77 78.08L72.10 78.08ZM77.36 77.16L78.03 77.17L78.70 77.17L79.37 77.18L80.15 77.18L80.15 78.13L79.37 78.13L78.70 78.12L78.03 78.12L77.36 78.11ZM82.61 77.21L83.28 77.21L83.95 77.22L84.62 77.22L85.40 77.23L85.40 78.18L84.62 78.17L83.95 78.17L83.28 78.16L82.61 78.16ZM87.98 77.26L88.65 77.26L89.32 77.27L89.99 77.28L90.77 77.29L90.77 78.24L89.99 78.23L89.32 78.22L88.65 78.21L87.98 78.21ZM93.23 77.31L93.90 77.32L94.57 77.33L95.24 77.34L96.02 77.35L96.02 78.30L95.24 78.29L94.57 78.28L93.90 78.27L93.23 78.26ZM98.59 77.38L99.27 77.39L99.94 77.40L100.61 77.41L101.39 77.42L101.39 78.37L100.61 78.36L99.94 78.35L99.27 78.34L98.59 78.33ZM103.85 77.46L104.52 77.47L105.19 77.48L105.86 77.49L106.64 77.50L106.64 78.45L105.86 78.44L105.19 78.43L104.52 78.42L103.85 78.41ZM109.10 77.55L109.77 77.56L110.44 77.57L111.11 77.58L111.90 77.60L111.90 78.55L111.11 78.53L110.44 78.52L109.77 78.51L109.10 78.50ZM114.47 77.65L115.14 77.67L115.81 77.68L116.48 77.70L117.26 77.71L117.26 78.66L116.48 78.65L115.81 78.63L115.14 78.62L114.47 78.60ZM119.72 77.77L120.39 77.79L121.06 77.80L121.73 77.82L122.52 77.84L122.52 78.79L121.73 78.77L121.06 78.75L120.39 78.74L119.72 78.72ZM125.09 77.91L125.76 77.93L126.43 77.95L127.10 77.97L127.88 77.99L127.88 78.94L127.10 78.92L126.43 78.90L125.76 78.88L125.09 78.86ZM130.34 78.07L131.01 78.09L131.68 78.11L132.35 78.13L133.13 78.16L133.13 79.11L132.35 79.08L131.68 79.06L131.01 79.04L130.34 79.02ZM135.70 78.25L136.38 78.28L137.05 78.30L137.72 78.33L138.50 78.36L138.50 79.31L137.72 79.28L137.05 79.25L136.38 79.23L135.70 79.20ZM140.96 78.46L141.63 78.49L142.30 78.52L142.97 78.55L143.75 78.59L143.75 79.54L142.97 79.50L142.30 79.47L141.63 79.44L140.96 79.41ZM146.21 78.70L146.88 78.74L147.55 78.77L148.22 78.80L149.01 78.84L149.01 79.79L148.22 79.75L147.55 79.72L146.88 79.69L146.21 79.65ZM151.58 78.98L152.25 79.02L152.92 79.06L153.59 79.10L154.37 79.15L154.37 80.10L153.59 80.05L152.92 80.01L152.25 79.97L151.58 79.93ZM156.83 79.30L157.50 79.34L158.17 79.39L158.84 79.43L159.63 79.49L159.63 80.44L158.84 80.38L158.17 80.34L157.50 80.29L156.83 80.25ZM162.20 79.67L162.87 79.72L163.54 79.77L164.21 79.82L164.99 79.88L164.99 80.83L164.21 80.77L163.54 80.72L162.87 80.67L162.20 80.62ZM167.45 80.08L168.12 80.14L168.79 80.20L169.46 80.26L170.24 80.33L170.24 81.28L169.46 81.21L168.79 81.15L168.12 81.09L167.45 81.03ZM172.70 80.56L173.37 80.62L174.04 80.69L174.72 80.75L175.50 80.83L175.50 81.78L174.72 81.70L174.04 81.64L173.37 81.57L172.70 81.51ZM178.07 81.10L178.74 81.18L179.41 81.25L180.08 81.33L180.86 81.42L180.86 82.37L180.08 82.28L179.41 82.20L178.74 82.13L178.07 82.05ZM183.32 81.71L183.99 81.80L184.66 81.88L185.33 81.97L186.12 82.07L186.12 83.02L185.33 82.92L184.66 82.83L183.99 82.75L183.32 82.66ZM188.69 82.42L189.36 82.52L190.03 82.61L190.70 82.71L191.48 82.82L191.48 83.77L190.70 83.66L190.03 83.56L189.36 83.47L188.69 83.37ZM193.94 83.20L194.61 83.31L195.28 83.42L195.95 83.53L196.74 83.66L196.74 84.61L195.95 84.48L195.28 84.37L194.61 84.26L193.94 84.15ZM199.31 84.10L199.98 84.22L200.65 84.34L201.32 84.46L201.99 84.59L201.99 85.54L201.32 85.41L200.65 85.29L199.98 85.17L199.31 85.05ZM204.56 85.09L205.23 85.22L205.90 85.36L206.57 85.49L207.35 85.66L207.35 86.61L206.57 86.44L205.90 86.31L205.23 86.17L204.56 86.04ZM209.81 86.19L210.48 86.34L211.15 86.49L211.83 86.64L212.61 86.82L212.61 87.77L211.83 87.59L211.15 87.44L210.48 87.29L209.81 87.14ZM215.18 87.44L215.85 87.60L216.52 87.77L217.19 87.94L217.97 88.14L217.97 89.09L217.19 88.89L216.52 88.72L215.85 88.55L215.18 88.39ZM220.43 88.79L221.10 88.98L221.77 89.16L222.44 89.35L223.23 89.57L223.23 90.52L222.44 90.30L221.77 90.11L221.10 89.93L220.43 89.74ZM225.80 90.32L226.47 90.52L227.14 90.73L227.81 90.93L228.59 91.18L228.59 92.13L227.81 91.88L227.14 91.68L226.47 91.47L225.80 91.27ZM231.05 91.96L231.72 92.18L232.39 92.41L233.06 92.63L233.85 92.90L233.85 93.85L233.06 93.58L232.39 93.36L231.72 93.13L231.05 92.91ZM236.30 93.76L236.98 93.99L237.65 94.24L238.32 94.48L239.10 94.77L239.10 95.72L238.32 95.43L237.65 95.19L236.98 94.94L236.30 94.71ZM241.67 95.74L242.34 96.00L243.01 96.26L243.68 96.53L244.46 96.84L244.46 97.79L243.68 97.48L243.01 97.21L242.34 96.95L241.67 96.69ZM246.92 97.84L247.59 98.12L248.27 98.40L248.94 98.69L249.72 99.02L249.72 99.97L248.94 99.64L248.27 99.35L247.59 99.07L246.92 98.79ZM252.29 100.15L252.96 100.45L253.63 100.75L254.30 101.05L255.08 101.41L255.08 102.36L254.30 102.00L253.63 101.70L252.96 101.40L252.29 101.10ZM257.54 102.56L258.21 102.88L258.88 103.20L259.55 103.53L260.34 103.91L260.34 104.86L259.55 104.48L258.88 104.15L258.21 103.83L257.54 103.51ZM262.91 105.18L263.58 105.52L264.25 105.86L264.92 106.21L265.59 106.55L265.59 107.50L264.92 107.16L264.25 106.81L263.58 106.47L262.91 106.13ZM268.16 107.90L268.83 108.26L269.50 108.62L270.17 108.98L270.96 109.40L270.96 110.35L270.17 109.93L269.50 109.57L268.83 109.21L268.16 108.85ZM273.42 110.76L274.09 111.13L274.76 111.51L275.43 111.89L276.21 112.33L276.21 113.28L275.43 112.84L274.76 112.46L274.09 112.08L273.42 111.71ZM278.78 113.82L279.45 114.21L280.12 114.61L280.79 115.00L281.58 115.47L281.58 116.42L280.79 115.95L280.12 115.56L279.45 115.16L278.78 114.77ZM284.03 116.95L284.70 117.36L285.38 117.77L286.05 118.18L286.83 118.66L286.83 119.61L286.05 119.13L285.38 118.72L284.70 118.31L284.03 117.90ZM289.40 120.27L290.07 120.69L290.74 121.12L291.41 121.55L292.19 122.05L292.19 123.00L291.41 122.50L290.74 122.07L290.07 121.64L289.40 121.22ZM294.65 123.64L295.32 124.08L295.99 124.52L296.67 124.96L297.45 125.48L297.45 126.43L296.67 125.91L295.99 125.47L295.32 125.03L294.65 124.59ZM299.91 127.12L300.58 127.57L301.25 128.02L301.92 128.48L302.70 129.01L302.70 129.96L301.92 129.43L301.25 128.97L300.58 128.52L299.91 128.07ZM305.27 130.78L305.94 131.24L306.61 131.71L307.28 132.17L308.07 132.72L308.07 133.67L307.28 133.12L306.61 132.66L305.94 132.19L305.27 131.73ZM310.53 134.45L311.20 134.93L311.87 135.41L312.54 135.89L313.32 136.45L313.32 137.40L312.54 136.84L311.87 136.36L311.20 135.88L310.53 135.40ZM315.89 138.30L316.56 138.79L317.23 139.27L317.90 139.76L318.69 140.34L318.69 141.29L317.90 140.71L317.23 140.22L316.56 139.74L315.89 139.25ZM321.14 142.15L321.82 142.65L322.49 143.14L323.16 143.64L323.94 144.23L323.94 145.18L323.16 144.59L322.49 144.09L321.82 143.60L321.14 143.10ZM326.51 146.16L327.18 146.67L327.85 147.17L328.52 147.68L329.19 148.19L329.19 149.14L328.52 148.63L327.85 148.12L327.18 147.62L326.51 147.11ZM331.76 150.16L332.43 150.68L333.10 151.19L333.78 151.71L334.56 152.32L334.56 153.27L333.78 152.66L333.10 152.14L332.43 151.63L331.76 151.11ZM337.02 154.23L337.69 154.75L338.36 155.28L339.03 155.81L339.81 156.42L339.81 157.37L339.03 156.76L338.36 156.23L337.69 155.70L337.02 155.18ZM342.38 158.45L343.05 158.99L343.72 159.52L344.39 160.05L345.18 160.68L345.18 161.63L344.39 161.00L343.72 160.47L343.05 159.94L342.38 159.40ZM347.64 162.65L348.31 163.19L348.98 163.73L349.65 164.28L350.43 164.91L350.43 165.86L349.65 165.23L348.98 164.68L348.31 164.14L347.64 163.60ZM353.00 167.00L353.67 167.55L354.34 168.10L355.01 168.65L355.80 169.29L355.80 170.24L355.01 169.60L354.34 169.05L353.67 168.50L353.00 167.95ZM358.25 171.32L358.93 171.88L359.60 172.44L360.27 172.99L361.05 173.65L361.05 174.60L360.27 173.94L359.60 173.39L358.93 172.83L358.25 172.27ZM363.51 175.70L364.18 176.27L364.85 176.83L365.52 177.40L366.30 178.06L366.30 179.01L365.52 178.35L364.85 177.78L364.18 177.22L363.51 176.65ZM368.87 180.23L369.54 180.81L370.21 181.38L370.89 181.95L371.67 182.62L371.67 183.57L370.89 182.90L370.21 182.33L369.54 181.76L368.87 181.18ZM374.13 184.73L374.80 185.31L375.47 185.89L376.14 186.47L376.92 187.15L376.92 188.10L376.14 187.42L375.47 186.84L374.80 186.26L374.13 185.68ZM379.49 189.39L380.16 189.97L380.83 190.56L381.50 191.15L382.29 191.83L382.29 192.78L381.50 192.10L380.83 191.51L380.16 190.92L379.49 190.34ZM384.75 194.00L385.42 194.60L386.09 195.19L386.76 195.79L387.54 196.49L387.54 197.44L386.76 196.74L386.09 196.14L385.42 195.55L384.75 194.95ZM390.11 198.79L390.78 199.39L391.45 199.99L392.12 200.60L392.79 201.20L392.79 202.15L392.12 201.55L391.45 200.94L390.78 200.34L390.11 199.74ZM395.36 203.53L396.04 204.14L396.71 204.76L397.38 205.37L398.16 206.09L398.16 207.04L397.38 206.32L396.71 205.71L396.04 205.09L395.36 204.48ZM400.62 208.35L401.29 208.97L401.96 209.59L402.63 210.21L403.41 210.94L403.41 211.89L402.63 211.16L401.96 210.54L401.29 209.92L400.62 209.30ZM405.98 213.34L406.65 213.97L407.33 214.60L408.00 215.23L408.78 215.97L408.78 216.92L408.00 216.18L407.33 215.55L406.65 214.92L405.98 214.29ZM411.24 218.30L411.91 218.94L412.58 219.58L413.25 220.23L414.03 220.98L414.03 221.93L413.25 221.18L412.58 220.53L411.91 219.89L411.24 219.25ZM416.60 223.45L417.27 224.10L417.94 224.76L418.61 225.41L419.40 226.17L419.40 227.12L418.61 226.36L417.94 225.71L417.27 225.05L416.60 224.40ZM421.86 228.58L422.53 229.24L423.20 229.91L423.87 230.57L424.65 231.35L424.65 232.30L423.87 231.52L423.20 230.86L422.53 230.19L421.86 229.53ZM427.58 234.28L428.26 234.95L428.93 235.62L429.60 236.30L430.38 237.09L429.43 237.09L428.65 236.30L427.98 235.62L427.31 234.95L426.63 234.28ZM432.84 239.59L433.51 240.28L434.18 240.96L434.85 241.65L435.63 242.46L434.68 242.46L433.90 241.65L433.23 240.96L432.56 240.28L431.89 239.59ZM437.98 244.89L438.65 245.59L439.32 246.29L439.99 246.99L440.66 247.70L439.71 247.70L439.04 246.99L438.37 246.29L437.70 245.59L437.03 244.89ZM443.01 250.18L443.68 250.89L444.35 251.60L445.02 252.32L445.69 253.04L444.74 253.04L444.07 252.32L443.40 251.60L442.73 250.89L442.06 250.18ZM448.04 255.57L448.60 256.17L449.27 256.90L449.83 257.51L450.50 258.24L449.55 258.24L448.88 257.51L448.32 256.90L447.65 256.17L447.09 255.57ZM452.85 260.83L453.41 261.44L454.08 262.19L454.64 262.81L455.31 263.56L454.36 263.56L453.69 262.81L453.13 262.19L452.46 261.44L451.90 260.83ZM457.54 266.07L458.10 266.70L458.77 267.46L459.33 268.10L460.00 268.86L459.05 268.86L458.38 268.10L457.82 267.46L457.15 266.70L456.59 266.07ZM462.24 271.42L462.79 272.07L463.35 272.72L463.91 273.37L464.58 274.15L463.63 274.15L462.96 273.37L462.40 272.72L461.84 272.07L461.29 271.42ZM466.82 276.77L467.38 277.43L467.94 278.09L468.50 278.75L469.17 279.55L468.22 279.55L467.55 278.75L466.99 278.09L466.43 277.43L465.87 276.77ZM471.29 282.10L471.85 282.77L472.41 283.45L472.97 284.13L473.53 284.81L472.58 284.81L472.02 284.13L471.46 283.45L470.90 282.77L470.34 282.10ZM475.54 287.27L476.10 287.96L476.66 288.66L477.21 289.35L477.77 290.05L476.82 290.05L476.26 289.35L475.71 288.66L475.15 287.96L474.59 287.27ZM479.79 292.57L480.34 293.28L480.90 293.98L481.46 294.69L482.02 295.41L481.07 295.41L480.51 294.69L479.95 293.98L479.39 293.28L478.84 292.57ZM484.03 297.99L484.48 298.57L485.04 299.29L485.60 300.02L486.16 300.75L485.21 300.75L484.65 300.02L484.09 299.29L483.53 298.57L483.08 297.99ZM488.06 303.24L488.50 303.84L489.06 304.58L489.51 305.17L490.07 305.92L489.12 305.92L488.56 305.17L488.11 304.58L487.55 303.84L487.11 303.24ZM491.97 308.47L492.19 308.78L492.42 309.08L492.64 309.38L492.98 309.84L492.02 309.84L491.69 309.38L491.47 309.08L491.24 308.78L491.02 308.47Z"/>
<path d="M45.50 197.53L46.17 197.53L46.84 197.54L47.51 197.54L48.29 197.54L48.29 198.49L47.51 198.49L46.84 198.49L46.17 198.48L45.50 198.48ZM50.87 197.55L51.54 197.55L52.21 197.55L52.88 197.56L53.66 197.56L53.66 198.51L52.88 198.51L52.21 198.50L51.54 198.50L50.87 198.50ZM56.12 197.57L56.79 197.57L57.46 197.58L58.13 197.58L58.91 197.58L58.91 198.53L58.13 198.53L57.46 198.53L56.79 198.52L56.12 198.52ZM61.48 197.59L62.15 197.60L62.83 197.60L63.50 197.60L64.28 197.61L64.28 198.56L63.50 198.55L62.83 198.55L62.15 198.55L61.48 198.54ZM66.74 197.62L67.41 197.63L68.08 197.63L68.75 197.63L69.53 197.64L69.53 198.59L68.75 198.58L68.08 198.58L67.41 198.58L66.74 198.57ZM72.10 197.66L72.77 197.66L73.44 197.66L74.12 197.67L74.90 197.67L74.90 198.62L74.12 198.62L73.44 198.61L72.77 198.61L72.10 198.61ZM77.36 197.69L78.03 197.70L78.70 197.70L79.37 197.71L80.15 197.71L80.15 198.66L79.37 198.66L78.70 198.65L78.03 198.65L77.36 198.64ZM82.61 197.74L83.28 197.74L83.95 197.75L84.62 197.75L85.40 197.76L85.40 198.71L84.62 198.70L83.95 198.70L83.28 198.69L82.61 198.69ZM87.98 197.79L88.65 197.79L89.32 197.80L89.99 197.81L90.77 197.82L90.77 198.77L89.99 198.76L89.32 198.75L88.65 198.74L87.98 198.74ZM93.23 197.84L93.90 197.85L94.57 197.86L95.24 197.87L96.02 197.88L96.02 198.83L95.24 198.82L94.57 198.81L93.90 198.80L93.23 198.79ZM98.59 197.91L99.27 197.92L99.94 197.93L100.61 197.94L101.39 197.95L101.39 198.90L100.61 198.89L99.94 198.88L99.27 198.87L98.59 198.86ZM103.85 197.99L104.52 198.00L105.19 198.01L105.86 198.02L106.64 198.03L106.64 198.98L105.86 198.97L105.19 198.96L104.52 198.95L103.85 198.94ZM109.10 198.08L109.77 198.09L110.44 198.10L111.11 198.12L111.90 198.13L111.90 199.08L111.11 199.07L110.44 199.05L109.77 199.04L109.10 199.03ZM114.47 198.18L115.14 198.20L115.81 198.21L116.48 198.23L117.26 198.24L117.26 199.19L116.48 199.18L115.81 199.16L115.14 199.15L114.47 199.13ZM119.72 198.30L120.39 198.32L121.06 198.33L121.73 198.35L122.52 198.37L122.52 199.32L121.73 199.30L121.06 199.28L120.39 199.27L119.72 199.25ZM125.09 198.44L125.76 198.46L126.43 198.48L127.10 198.50L127.88 198.52L127.88 199.47L127.10 199.45L126.43 199.43L125.76 199.41L125.09 199.39ZM130.34 198.60L131.01 198.62L131.68 198.64L132.35 198.66L133.13 198.69L133.13 199.64L132.35 199.61L131.68 199.59L131.01 199.57L130.34 199.55ZM135.70 198.78L136.38 198.81L137.05 198.83L137.72 198.86L138.50 198.89L138.50 199.84L137.72 199.81L137.05 199.78L136.38 199.76L135.70 199.73ZM140.96 198.99L141.63 199.02L142.30 199.05L142.97 199.08L143.75 199.12L143.75 200.07L142.97 200.03L142.30 200.00L141.63 199.97L140.96 199.94ZM146.21 199.23L146.88 199.27L147.55 199.30L148.22 199.33L149.01 199.37L149.01 200.32L148.22 200.28L147.55 200.25L146.88 200.22L146.21 200.18ZM151.58 199.51L152.25 199.55L152.92 199.59L153.59 199.63L154.37 199.68L154.37 200.63L153.59 200.58L152.92 200.54L152.25 200.50L151.58 200.46ZM156.83 199.83L157.50 199.87L158.17 199.92L158.84 199.96L159.63 200.02L159.63 200.97L158.84 200.91L158.17 200.87L157.50 200.82L156.83 200.78ZM162.20 200.20L162.87 200.25L163.54 200.30L164.21 200.35L164.99 200.41L164.99 201.36L164.21 201.30L163.54 201.25L162.87 201.20L162.20 201.15ZM167.45 200.61L168.12 200.67L168.79 200.73L169.46 200.79L170.24 200.86L170.24 201.81L169.46 201.74L168.79 201.68L168.12 201.62L167.45 201.56ZM172.70 201.09L173.37 201.15L174.04 201.22L174.72 201.28L175.50 201.36L175.50 202.31L174.72 202.23L174.04 202.17L173.37 202.10L172.70 202.04ZM178.07 201.63L178.74 201.71L179.41 201.78L180.08 201.86L180.86 201.95L180.86 202.90L180.08 202.81L179.41 202.73L178.74 202.66L178.07 202.58ZM183.32 202.24L183.99 202.33L184.66 202.41L185.33 202.50L186.12 202.60L186.12 203.55L185.33 203.45L184.66 203.36L183.99 203.28L183.32 203.19ZM188.69 202.95L189.36 203.05L190.03 203.14L190.70 203.24L191.48 203.35L191.48 204.30L190.70 204.19L190.03 204.09L189.36 204.00L188.69 203.90ZM193.94 203.73L194.61 203.84L195.28 203.95L195.95 204.06L196.74 204.19L196.74 205.14L195.95 205.01L195.28 204.90L194.61 204.79L193.94 204.68ZM199.31 204.63L199.98 204.75L200.65 204.87L201.32 204.99L201.99 205.12L201.99 206.07L201.32 205.94L200.65 205.82L199.98 205.70L199.31 205.58ZM204.56 205.62L205.23 205.75L205.90 205.89L206.57 206.02L207.35 206.19L207.35 207.14L206.57 206.97L205.90 206.84L205.23 206.70L204.56 206.57ZM209.81 206.72L210.48 206.87L211.15 207.02L211.83 207.17L212.61 207.35L212.61 208.30L211.83 208.12L211.15 207.97L210.48 207.82L209.81 207.67ZM215.18 207.97L215.85 208.13L216.52 208.30L217.19 208.47L217.97 208.67L217.97 209.62L217.19 209.42L216.52 209.25L215.85 209.08L215.18 208.92ZM220.43 209.32L221.10 209.51L221.77 209.69L222.44 209.88L223.23 210.10L223.23 211.05L222.44 210.83L221.77 210.64L221.10 210.46L220.43 210.27ZM225.80 210.85L226.47 211.05L227.14 211.26L227.81 211.46L228.59 211.71L228.59 212.66L227.81 212.41L227.14 212.21L226.47 212.00L225.80 211.80ZM231.05 212.49L231.72 212.72L232.39 212.94L233.06 213.16L233.85 213.43L233.85 214.38L233.06 214.11L232.39 213.89L231.72 213.67L231.05 213.44ZM236.30 214.29L236.98 214.53L237.65 214.77L238.32 215.01L239.10 215.30L239.10 216.25L238.32 215.96L237.65 215.72L236.98 215.48L236.30 215.24ZM241.67 216.27L242.34 216.53L243.01 216.79L243.68 217.06L244.46 217.37L244.46 218.32L243.68 218.01L243.01 217.74L242.34 217.48L241.67 217.22ZM246.92 218.37L247.59 218.65L248.27 218.93L248.94 219.22L249.72 219.55L249.72 220.50L248.94 220.17L248.27 219.88L247.59 219.60L246.92 219.32ZM252.29 220.68L252.96 220.98L253.63 221.28L254.30 221.58L255.08 221.94L255.08 222.89L254.30 222.53L253.63 222.23L252.96 221.93L252.29 221.63ZM257.54 223.09L258.21 223.41L258.88 223.73L259.55 224.06L260.34 224.44L260.34 225.39L259.55 225.01L258.88 224.68L258.21 224.36L257.54 224.04ZM262.91 225.71L263.58 226.05L264.25 226.39L264.92 226.74L265.59 227.08L265.59 228.03L264.92 227.69L264.25 227.34L263.58 227.00L262.91 226.66ZM268.16 228.43L268.83 228.79L269.50 229.15L270.17 229.51L270.96 229.93L270.96 230.88L270.17 230.46L269.50 230.10L268.83 229.74L268.16 229.38ZM273.42 231.29L274.09 231.66L274.76 232.04L275.43 232.42L276.21 232.86L276.21 233.81L275.43 233.37L274.76 232.99L274.09 232.61L273.42 232.24ZM278.78 234.35L279.45 234.74L280.12 235.14L280.79 235.53L281.58 236.00L281.58 236.95L280.79 236.48L280.12 236.09L279.45 235.69L278.78 235.30ZM284.03 237.48L284.70 237.89L285.38 238.30L286.05 238.71L286.83 239.19L286.83 240.14L286.05 239.66L285.38 239.25L284.70 238.84L284.03 238.43ZM289.40 240.80L290.07 241.22L290.74 241.65L291.41 242.08L292.19 242.58L292.19 243.53L291.41 243.03L290.74 242.60L290.07 242.17L289.40 241.75ZM294.65 244.17L295.32 244.61L295.99 245.05L296.67 245.49L297.45 246.01L297.45 246.96L296.67 246.44L295.99 246.00L295.32 245.56L294.65 245.12ZM299.91 247.65L300.58 248.10L301.25 248.55L301.92 249.01L302.70 249.54L302.70 250.49L301.92 249.96L301.25 249.50L300.58 249.05L299.91 248.60ZM305.27 251.31L305.94 251.77L306.61 252.24L307.28 252.70L308.07 253.25L308.07 254.20L307.28 253.65L306.61 253.19L305.94 252.72L305.27 252.26ZM310.53 254.98L311.20 255.46L311.87 255.94L312.54 256.42L313.32 256.98L313.32 257.93L312.54 257.37L311.87 256.89L311.20 256.41L310.53 255.93ZM315.89 258.83L316.56 259.32L317.23 259.80L317.90 260.29L318.69 260.87L318.69 261.82L317.90 261.24L317.23 260.75L316.56 260.27L315.89 259.78ZM321.14 262.68L321.82 263.18L322.49 263.67L323.16 264.17L323.94 264.76L323.94 265.71L323.16 265.12L322.49 264.62L321.82 264.13L321.14 263.63ZM326.51 266.69L327.18 267.20L327.85 267.70L328.52 268.21L329.19 268.72L329.19 269.67L328.52 269.16L327.85 268.65L327.18 268.15L326.51 267.64ZM331.76 270.69L332.43 271.21L333.10 271.72L333.78 272.24L334.56 272.85L334.56 273.80L333.78 273.19L333.10 272.67L332.43 272.16L331.76 271.64ZM337.02 274.76L337.69 275.28L338.36 275.81L339.03 276.34L339.81 276.95L339.81 277.90L339.03 277.29L338.36 276.76L337.69 276.23L337.02 275.71ZM342.38 278.98L343.05 279.52L343.72 280.05L344.39 280.58L345.18 281.21L345.18 282.16L344.39 281.53L343.72 281.00L343.05 280.47L342.38 279.93ZM347.64 283.18L348.31 283.72L348.98 284.26L349.65 284.81L350.43 285.44L350.43 286.39L349.65 285.76L348.98 285.21L348.31 284.67L347.64 284.13ZM353.00 287.53L353.67 288.08L354.34 288.63L355.01 289.18L355.80 289.82L355.80 290.77L355.01 290.13L354.34 289.58L353.67 289.03L353.00 288.48ZM358.25 291.85L358.93 292.41L359.60 292.97L360.27 293.52L361.05 294.18L361.05 295.13L360.27 294.47L359.60 293.92L358.93 293.36L358.25 292.80ZM363.51 296.23L364.18 296.80L364.85 297.36L365.52 297.93L366.30 298.59L366.30 299.54L365.52 298.88L364.85 298.31L364.18 297.75L363.51 297.18ZM368.87 300.77L369.54 301.34L370.21 301.91L370.89 302.48L371.67 303.15L371.67 304.10L370.89 303.43L370.21 302.86L369.54 302.29L368.87 301.72ZM374.13 305.26L374.80 305.84L375.47 306.42L376.14 307.00L376.92 307.68L376.92 308.63L376.14 307.95L375.47 307.37L374.80 306.79L374.13 306.21ZM379.49 309.92L380.16 310.50L380.83 311.09L381.50 311.68L382.29 312.36L382.29 313.31L381.50 312.63L380.83 312.04L380.16 311.45L379.49 310.87ZM384.75 314.53L385.42 315.13L386.09 315.72L386.76 316.32L387.54 317.02L387.54 317.97L386.76 317.27L386.09 316.67L385.42 316.08L384.75 315.48ZM390.11 319.32L390.78 319.92L391.45 320.52L392.12 321.13L392.79 321.73L392.79 322.68L392.12 322.08L391.45 321.47L390.78 320.87L390.11 320.27ZM395.36 324.06L396.04 324.67L396.71 325.29L397.38 325.90L398.16 326.62L398.16 327.57L397.38 326.85L396.71 326.24L396.04 325.62L395.36 325.01ZM400.62 328.88L401.29 329.50L401.96 330.12L402.63 330.74L403.41 331.47L403.41 332.42L402.63 331.69L401.96 331.07L401.29 330.45L400.62 329.83ZM405.98 333.87L406.65 334.50L407.33 335.13L408.00 335.76L408.78 336.50L408.78 337.45L408.00 336.71L407.33 336.08L406.65 335.45L405.98 334.82ZM411.24 338.83L411.91 339.47L412.58 340.11L413.25 340.76L414.03 341.51L414.03 342.46L413.25 341.71L412.58 341.06L411.91 340.42L411.24 339.78ZM416.60 343.98L417.27 344.63L417.94 345.29L418.61 345.94L419.40 346.70L419.40 347.65L418.61 346.89L417.94 346.24L417.27 345.58L416.60 344.93ZM421.86 349.11L422.53 349.77L423.20 350.44L423.87 351.10L424.65 351.88L424.65 352.83L423.87 352.05L423.20 351.39L422.53 350.72L421.86 350.06ZM427.58 354.81L428.26 355.48L428.93 356.15L429.60 356.83L430.38 357.62L429.43 357.62L428.65 356.83L427.98 356.15L427.31 355.48L426.63 354.81ZM432.84 360.12L433.51 360.81L434.18 361.49L434.85 362.18L435.63 362.99L434.68 362.99L433.90 362.18L433.23 361.49L432.56 360.81L431.89 360.12ZM437.98 365.42L438.65 366.12L439.32 366.82L439.99 367.52L440.66 368.23L439.71 368.23L439.04 367.52L438.37 366.82L437.70 366.12L437.03 365.42ZM443.01 370.71L443.68 371.42L444.35 372.13L445.02 372.85L445.69 373.57L444.74 373.57L444.07 372.85L443.40 372.13L442.73 371.42L442.06 370.71ZM448.04 376.10L448.60 376.70L449.27 377.43L449.83 378.04L450.50 378.77L449.55 378.77L448.88 378.04L448.32 377.43L447.65 376.70L447.09 376.10ZM452.85 381.36L453.41 381.97L454.08 382.72L454.64 383.34L455.31 384.09L454.36 384.09L453.69 383.34L453.13 382.72L452.46 381.97L451.90 381.36ZM457.54 386.60L458.10 387.23L458.77 387.99L459.33 388.63L460.00 389.39L459.05 389.39L458.38 388.63L457.82 387.99L457.15 387.23L456.59 386.60ZM462.24 391.95L462.79 392.60L463.35 393.25L463.91 393.90L464.58 394.68L463.63 394.68L462.96 393.90L462.40 393.25L461.84 392.60L461.29 391.95ZM466.82 397.30L467.38 397.96L467.94 398.62L468.50 399.28L469.17 400.08L468.22 400.08L467.55 399.28L466.99 398.62L466.43 397.96L465.87 397.30ZM471.29 402.63L471.85 403.30L472.41 403.98L472.97 404.66L473.53 405.34L472.58 405.34L472.02 404.66L471.46 403.98L470.90 403.30L470.34 402.63ZM475.54 407.80L476.10 408.49L476.66 409.19L477.21 409.88L477.77 410.58L476.82 410.58L476.26 409.88L475.71 409.19L475.15 408.49L474.59 407.80ZM479.79 413.10L480.34 413.81L480.90 414.51L481.46 415.22L482.02 415.94L481.07 415.94L480.51 415.22L479.95 414.51L479.39 413.81L478.84 413.10ZM484.03 418.52L484.48 419.10L485.04 419.82L485.60 420.55L486.16 421.28L485.21 421.28L484.65 420.55L484.09 419.82L483.53 419.10L483.08 418.52ZM488.06 423.77L488.50 424.37L489.06 425.11L489.51 425.70L490.07 426.45L489.12 426.45L488.56 425.70L488.11 425.11L487.55 424.37L487.11 423.77ZM491.97 429.00L492.19 429.31L492.42 429.61L492.64 429.91L492.98 430.37L492.02 430.37L491.69 429.91L491.47 429.61L491.24 429.31L491.02 429.00Z"/>
</g>
<path d="M45.50 135.44L47.53 135.45L49.56 135.45L51.59 135.46L53.62 135.47L55.65 135.48L57.68 135.49L59.82 135.50L61.85 135.51L63.88 135.52L65.91 135.53L67.94 135.54L69.97 135.55L72.00 135.56L74.15 135.58L76.18 135.59L78.21 135.61L80.24 135.63L82.27 135.64L84.30 135.66L86.33 135.68L88.47 135.70L90.50 135.72L92.53 135.75L94.56 135.77L96.59 135.80L98.62 135.82L100.65 135.85L102.79 135.88L104.82 135.91L106.85 135.95L108.88 135.98L110.91 136.02L112.94 136.06L114.97 136.10L117.11 136.15L119.14 136.20L121.17 136.25L123.20 136.30L125.23 136.35L127.26 136.41L129.29 136.47L131.44 136.54L133.47 136.61L135.50 136.69L137.53 136.76L139.56 136.84L141.59 136.93L143.73 137.02L145.76 137.12L147.79 137.22L149.82 137.33L151.85 137.44L153.88 137.56L155.91 137.68L158.05 137.82L160.08 137.96L162.11 138.10L164.14 138.26L166.17 138.42L168.20 138.59L170.23 138.77L172.38 138.96L174.41 139.16L176.44 139.37L178.47 139.59L180.50 139.82L182.53 140.06L184.56 140.31L186.70 140.59L188.73 140.87L190.76 141.16L192.79 141.46L194.82 141.78L196.85 142.12L198.88 142.46L201.02 142.85L203.05 143.23L205.08 143.63L207.11 144.05L209.14 144.48L211.17 144.93L213.20 145.40L215.34 145.92L217.37 146.43L219.40 146.96L221.43 147.51L223.46 148.08L225.49 148.67L227.64 149.32L229.67 149.96L231.70 150.62L233.73 151.30L235.76 152.00L237.79 152.73L239.82 153.48L241.96 154.29L243.99 155.09L246.02 155.91L248.05 156.75L250.08 157.62L252.11 158.51L254.14 159.42L256.28 160.41L258.31 161.37L260.34 162.35L262.37 163.35L264.40 164.38L266.43 165.43L268.46 166.50L270.61 167.65L272.64 168.76L274.67 169.90L276.70 171.05L278.73 172.23L280.76 173.42L282.79 174.63L284.93 175.93L286.96 177.18L288.99 178.45L291.02 179.74L293.05 181.04L295.08 182.36L297.11 183.69L299.25 185.12L301.28 186.49L303.31 187.87L305.34 189.26L307.37 190.67L309.40 192.10L311.43 193.54L313.57 195.07L315.60 196.53L317.63 198.01L319.66 199.50L321.69 201.00L323.72 202.51L325.87 204.12L327.90 205.65L329.93 207.19L331.96 208.75L333.99 210.31L336.02 211.89L338.05 213.48L340.19 215.16L342.22 216.76L344.25 218.38L346.28 220.00L348.31 221.64L350.34 223.28L352.37 224.93L354.51 226.68L356.54 228.35L358.57 230.03L360.60 231.71L362.63 233.41L364.66 235.11L366.69 236.83L368.84 238.64L370.87 240.37L372.90 242.11L374.93 243.86L376.96 245.62L378.99 247.38L381.02 249.16L383.16 251.04L385.19 252.84L387.22 254.64L389.25 256.45L391.28 258.27L393.31 260.11L395.34 261.95L397.48 263.90L399.51 265.77L401.54 267.64L403.57 269.53L405.60 271.42L407.63 273.33L409.77 275.35L411.80 277.28L413.83 279.23L415.86 281.18L417.89 283.15L419.92 285.13L421.95 287.12L424.10 289.24L426.13 291.26L430.46 295.59L432.49 297.64L434.52 299.71L436.55 301.78L438.58 303.88L440.72 306.11L442.75 308.24L444.78 310.38L446.81 312.54L448.84 314.72L450.87 316.92L452.90 319.14L455.04 321.50L457.07 323.76L459.10 326.04L461.13 328.33L463.16 330.65L465.19 333.00L467.22 335.36L469.36 337.88L471.39 340.30L473.42 342.74L475.45 345.20L477.48 347.69L479.51 350.21L481.54 352.75L483.69 355.47L485.72 358.07L487.75 360.71L489.78 363.37L491.81 366.07L493.84 368.80L495.98 371.72L491.38 371.72L489.24 368.80L487.21 366.07L485.18 363.37L483.15 360.71L481.12 358.07L479.09 355.47L476.94 352.75L474.91 350.21L472.88 347.69L470.85 345.20L468.82 342.74L466.79 340.30L464.76 337.88L462.62 335.36L460.59 333.00L458.56 330.65L456.53 328.33L454.50 326.04L452.47 323.76L450.44 321.50L448.30 319.14L446.27 316.92L444.24 314.72L442.21 312.54L440.18 310.38L438.15 308.24L436.12 306.11L433.98 303.88L431.95 301.78L429.92 299.71L427.89 297.64L425.86 295.59L426.13 295.86L424.10 293.84L421.95 291.72L419.92 289.73L417.89 287.75L415.86 285.78L413.83 283.83L411.80 281.88L409.77 279.95L407.63 277.93L405.60 276.02L403.57 274.13L401.54 272.24L399.51 270.37L397.48 268.50L395.34 266.55L393.31 264.71L391.28 262.87L389.25 261.05L387.22 259.24L385.19 257.44L383.16 255.64L381.02 253.76L378.99 251.98L376.96 250.22L374.93 248.46L372.90 246.71L370.87 244.97L368.84 243.24L366.69 241.43L364.66 239.71L362.63 238.01L360.60 236.31L358.57 234.63L356.54 232.95L354.51 231.28L352.37 229.53L350.34 227.88L348.31 226.24L346.28 224.60L344.25 222.98L342.22 221.36L340.19 219.76L338.05 218.08L336.02 216.49L333.99 214.91L331.96 213.35L329.93 211.79L327.90 210.25L325.87 208.72L323.72 207.11L321.69 205.60L319.66 204.10L317.63 202.61L315.60 201.13L313.57 199.67L311.43 198.14L309.40 196.70L307.37 195.27L305.34 193.86L303.31 192.47L301.28 191.09L299.25 189.72L297.11 188.29L295.08 186.96L293.05 185.64L291.02 184.34L288.99 183.05L286.96 181.78L284.93 180.53L282.79 179.23L280.76 178.02L278.73 176.83L276.70 175.65L274.67 174.50L272.64 173.36L270.61 172.25L268.46 171.10L266.43 170.03L264.40 168.98L262.37 167.95L260.34 166.95L258.31 165.97L256.28 165.01L254.14 164.02L252.11 163.11L250.08 162.22L248.05 161.35L246.02 160.51L243.99 159.69L241.96 158.89L239.82 158.08L237.79 157.33L235.76 156.60L233.73 155.90L231.70 155.22L229.67 154.56L227.64 153.92L225.49 153.27L223.46 152.68L221.43 152.11L219.40 151.56L217.37 151.03L215.34 150.52L213.20 150.00L211.17 149.53L209.14 149.08L207.11 148.65L205.08 148.23L203.05 147.83L201.02 147.45L198.88 147.06L196.85 146.72L194.82 146.38L192.79 146.06L190.76 145.76L188.73 145.47L186.70 145.19L184.56 144.91L182.53 144.66L180.50 144.42L178.47 144.19L176.44 143.97L174.41 143.76L172.38 143.56L170.23 143.37L168.20 143.19L166.17 143.02L164.14 142.86L162.11 142.70L160.08 142.56L158.05 142.42L155.91 142.28L153.88 142.16L151.85 142.04L149.82 141.93L147.79 141.82L145.76 141.72L143.73 141.62L141.59 141.53L139.56 141.44L137.53 141.36L135.50 141.29L133.47 141.21L131.44 141.14L129.29 141.07L127.26 141.01L125.23 140.95L123.20 140.90L121.17 140.85L119.14 140.80L117.11 140.75L114.97 140.70L112.94 140.66L110.91 140.62L108.88 140.58L106.85 140.55L104.82 140.51L102.79 140.48L100.65 140.45L98.62 140.42L96.59 140.40L94.56 140.37L92.53 140.35L90.50 140.32L88.47 140.30L86.33 140.28L84.30 140.26L82.27 140.24L80.24 140.23L78.21 140.21L76.18 140.19L74.15 140.18L72.00 140.16L69.97 140.15L67.94 140.14L65.91 140.13L63.88 140.12L61.85 140.11L59.82 140.10L57.68 140.09L55.65 140.08L53.62 140.07L51.59 140.06L49.56 140.05L47.53 140.05L45.50 140.04Z"/>
</g>
<text x="38.7" y="389.15" font-size="13.9" fill="#262626" text-anchor="end">1</text>
<text x="38.7" y="349.13" font-size="13.9" fill="#262626" text-anchor="end">2</text>
<text x="38.7" y="309.12" font-size="13.9" fill="#262626" text-anchor="end">3</text>
<text x="38.7" y="269.10" font-size="13.9" fill="#262626" text-anchor="end">4</text>
<text x="38.7" y="229.08" font-size="13.9" fill="#262626" text-anchor="end">5</text>
<text x="38.7" y="189.07" font-size="13.9" fill="#262626" text-anchor="end">6</text>
<text x="38.7" y="149.05" font-size="13.9" fill="#262626" text-anchor="end">7</text>
<text x="38.7" y="109.03" font-size="13.9" fill="#262626" text-anchor="end">8</text>
<text x="38.7" y="69.02" font-size="13.9" fill="#262626" text-anchor="end">9</text>
<text x="38.7" y="29.00" font-size="13.9" fill="#262626" text-anchor="end">10</text>
<text x="34.90" y="408.1" font-size="13.9" fill="#262626">10</text>
<text x="50.20" y="400.9" font-size="10.4" fill="#262626">0</text>
<text x="200.52" y="408.1" font-size="13.9" fill="#262626">10</text>
<text x="215.82" y="400.9" font-size="10.4" fill="#262626">1</text>
<text x="366.14" y="408.1" font-size="13.9" fill="#262626">10</text>
<text x="381.44" y="400.9" font-size="10.4" fill="#262626">2</text>
<text x="269.5" y="428.4" font-size="15.2" font-weight="bold" fill="#262626" text-anchor="middle">Epicentral Distance [km]</text>
<text transform="translate(16.2 203.5) rotate(-90)" font-size="15.5" font-weight="bold" fill="#262626" text-anchor="middle">Intensity [MCS]</text>
<text x="268.7" y="18" font-size="17.7" font-weight="bold" fill="#000" text-anchor="middle">Mw = 5.77</text>
<rect x="370.7" y="34.9" width="111.80000000000001" height="61.6" fill="#fff" stroke="#636363" stroke-width="1"/>
<circle cx="394.8" cy="43.7" r="2.45" fill="#000"/>
<path d="M374.2 58.4H415.4" stroke="#f00" stroke-width="4.5"/>
<path d="M374.2 73.2H415.4" stroke="#f00" stroke-width="0.8"/>
<path d="M374.6 87.9H414.4" stroke="#f00" stroke-width="0.8" stroke-dasharray="3 2.3"/>
<text x="418.6" y="48.00" font-size="11" fill="#000">Int BMINGV</text>
<text x="418.6" y="62.70" font-size="11" fill="#000">GOM24</text>
<text x="418.6" y="77.50" font-size="11" fill="#000">GOM24 sd</text>
<text x="418.6" y="92.20" font-size="11" fill="#000">GOM24 2sd</text>
</svg></body></html>
